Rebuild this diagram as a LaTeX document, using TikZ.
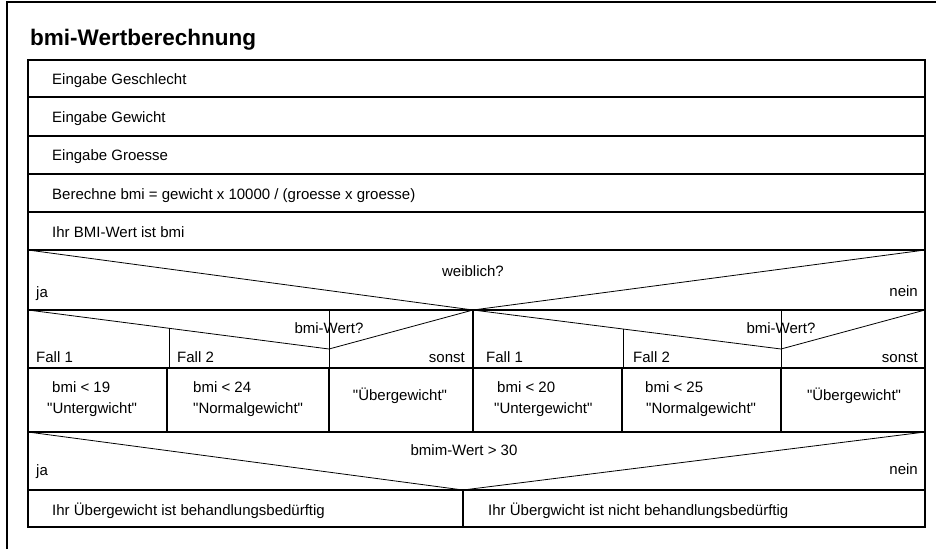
\documentclass[tikz,border=0pt]{standalone}
\usepackage{fontspec}
\setmainfont{Liberation Sans}
\usepackage{tikz}
\usetikzlibrary{positioning}
\newcommand{\gf}{\textquotedbl} % gerade Anfuehrungszeichen

\begin{document}
\begin{tikzpicture}[x=1pt,y=-1pt,
    linie/.style={line width=1.6pt},
    diag/.style={line width=0.8pt},
    txt/.style={anchor=base west,inner sep=0pt,font=\fontsize{15}{18}\selectfont},
    txtr/.style={txt,anchor=base east},
    txtm/.style={txt,anchor=base}]
\useasboundingbox (0,0) rectangle (936,549);
\draw[line width=1.2pt] (7,549) -- (7,2) -- (936,2); % Rahmen
\node[anchor=base west,inner sep=0pt,font=\bfseries\fontsize{22.5}{26}\selectfont] (titel) at (30,45) {bmi-Wertberechnung};
% Struktogramm
\draw[linie] (28,60) rectangle (925,527);
\foreach \y in {97,136,174,212,250,310,368,432,490} \draw[linie] (28,\y) -- (925,\y);
% Anweisungen
\node[txt] (geschlecht) at (52,84) {Eingabe Geschlecht};
\node[txt] (gewicht) at (52,122) {Eingabe Gewicht};
\node[txt] (groesse) at (52,160) {Eingabe Groesse};
\node[txt] (berechne) at (52,199) {Berechne bmi = gewicht x 10000 / (groesse x groesse)};
\node[txt] (ausgabe) at (52,237) {Ihr BMI-Wert ist bmi};
% Verzweigung weiblich?
\draw[diag] (28,250) -- (473,310) -- (925,250);
\draw[linie] (473,310) -- (473,432);
\node[txtm] (weiblich) at (473,276) {weiblich?};
\node[txt] (ja1) at (36,297) {ja};
\node[txtr] (nein1) at (918,296) {nein};
% Fallauswahl links
\draw[diag] (28,310) -- (329,349) -- (473,310);
\draw[diag] (169,328) -- (169,368);
\draw[diag] (329,310) -- (329,368);
\node[txtm] (wertL) at (329,333) {bmi-Wert?};
\node[txt] (fall1L) at (36,362) {Fall 1};
\node[txt] (fall2L) at (177,362) {Fall 2};
\node[txtr] (sonstL) at (465,362) {sonst};
\foreach \x in {167,329} \draw[linie] (\x,368) -- (\x,432);
\node[txt] (bmiA) at (52,392) {bmi < 19};
\node[txt] (unterA) at (47,413) {\gf Untergwicht\gf};
\node[txt] (bmiB) at (193,392) {bmi < 24};
\node[txt] (normalA) at (193,413) {\gf Normalgewicht\gf};
\node[txtm] (ueberA) at (400,400) {\gf Übergewicht\gf};
% Fallauswahl rechts
\draw[diag] (473,310) -- (781,349) -- (925,310);
\draw[diag] (623,329) -- (623,368);
\draw[diag] (781,310) -- (781,368);
\node[txtm] (wertR) at (781,333) {bmi-Wert?};
\node[txt] (fall1R) at (486,362) {Fall 1};
\node[txt] (fall2R) at (633,362) {Fall 2};
\node[txtr] (sonstR) at (918,362) {sonst};
\foreach \x in {622,781} \draw[linie] (\x,368) -- (\x,432);
\node[txt] (bmiC) at (497,392) {bmi < 20};
\node[txt] (unterB) at (494,413) {\gf Untergewicht\gf};
\node[txt] (bmiD) at (645,392) {bmi < 25};
\node[txt] (normalB) at (646,413) {\gf Normalgewicht\gf};
\node[txtm] (ueberB) at (854,400) {\gf Übergewicht\gf};
% Verzweigung bmim-Wert > 30
\draw[diag] (28,432) -- (463,490) -- (925,432);
\draw[linie] (463,490) -- (463,527);
\node[txtm] (grenze) at (464,455) {bmim-Wert > 30};
\node[txt] (ja2) at (36,475) {ja};
\node[txtr] (nein2) at (918,474) {nein};
\node[txt] (behandeln) at (52,515) {Ihr Übergewicht ist behandlungsbedürftig};
\node[txt] (nichtbehandeln) at (488,515) {Ihr Übergwicht ist nicht behandlungsbedürftig};
\end{tikzpicture}
\end{document}
